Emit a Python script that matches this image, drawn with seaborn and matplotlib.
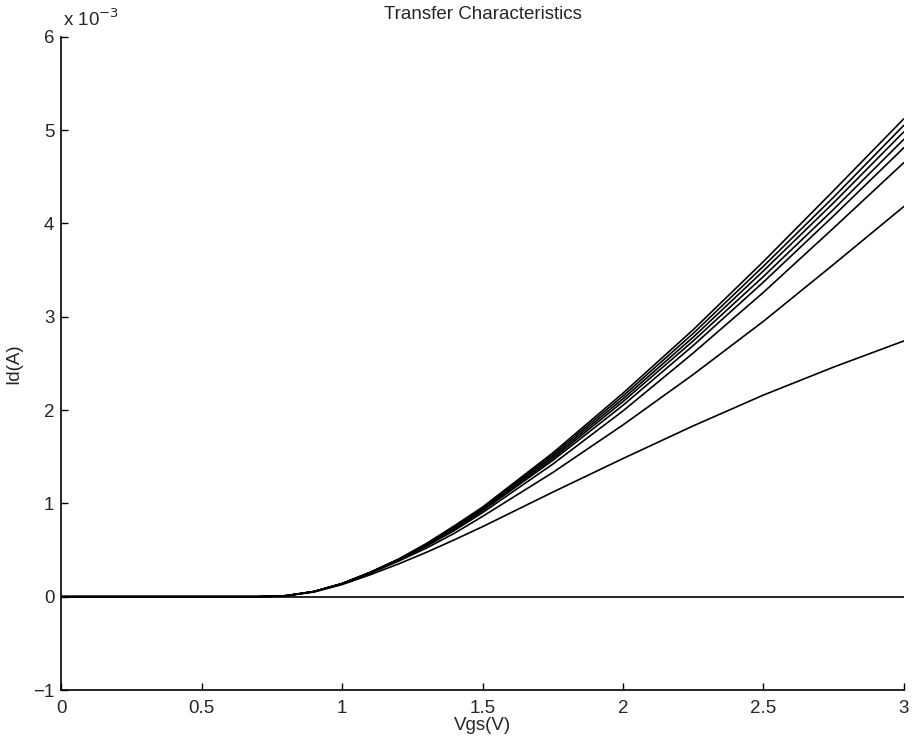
import pandas as pd
import matplotlib
matplotlib.use('Agg')
import matplotlib.pyplot as plt
import seaborn as sns

# Gate voltage samples (V)
vgs = [0.0, 0.5, 0.7, 0.8, 0.9, 1.0, 1.1, 1.2, 1.3, 1.4, 1.5, 1.75, 2.0, 2.25, 2.5, 2.75, 3.0]

# Drain current for each curve, in units of 1e-3 A
id_1 = [0, 0, 0, 0.01, 0.055, 0.14, 0.26, 0.40, 0.57, 0.76, 0.96, 1.54, 2.18, 2.86, 3.59, 4.35, 5.12]
id_2 = [0, 0, 0, 0.01, 0.055, 0.14, 0.26, 0.40, 0.56, 0.75, 0.95, 1.52, 2.15, 2.82, 3.54, 4.28, 5.05]
id_3 = [0, 0, 0, 0.01, 0.055, 0.14, 0.26, 0.40, 0.56, 0.74, 0.94, 1.50, 2.12, 2.78, 3.49, 4.22, 4.98]
id_4 = [0, 0, 0, 0.01, 0.055, 0.14, 0.26, 0.39, 0.55, 0.73, 0.93, 1.48, 2.09, 2.74, 3.43, 4.15, 4.90]
id_5 = [0, 0, 0, 0.01, 0.055, 0.14, 0.26, 0.39, 0.55, 0.72, 0.92, 1.46, 2.05, 2.69, 3.37, 4.08, 4.81]
id_6 = [0, 0, 0, 0.01, 0.055, 0.14, 0.25, 0.39, 0.54, 0.71, 0.90, 1.42, 1.99, 2.61, 3.26, 3.95, 4.65]
id_7 = [0, 0, 0, 0.01, 0.055, 0.14, 0.25, 0.38, 0.52, 0.68, 0.86, 1.33, 1.84, 2.38, 2.95, 3.56, 4.18]
id_8 = [0, 0, 0, 0.01, 0.05, 0.13, 0.235, 0.35, 0.475, 0.61, 0.75, 1.12, 1.48, 1.83, 2.16, 2.46, 2.74]
id_9 = [0] * len(vgs)

curves = [id_1, id_2, id_3, id_4, id_5, id_6, id_7, id_8, id_9]

rows = []
for i, ids in enumerate(curves):
    for v, c in zip(vgs, ids):
        rows.append({'Vgs': v, 'Id': c, 'curve': i})
df = pd.DataFrame(rows)

sns.set_style('ticks')
plt.rcParams['font.family'] = ['Liberation Sans', 'DejaVu Sans']
plt.rcParams['xtick.direction'] = 'in'
plt.rcParams['ytick.direction'] = 'in'

fig = plt.figure(figsize=(9.19, 7.51), dpi=100)
ax = fig.add_axes([0.0667, 0.0812, 0.9167, 0.8699])

sns.lineplot(data=df, x='Vgs', y='Id', units='curve', estimator=None,
             color='black', linewidth=1.2, ax=ax)

ax.set_xlim(0, 3)
ax.set_ylim(-1, 6)
ax.set_xticks([0, 0.5, 1, 1.5, 2, 2.5, 3])
ax.set_xticklabels(['0', '0.5', '1', '1.5', '2', '2.5', '3'])
ax.set_yticks(range(-1, 7))
ax.set_yticklabels(['\u22121'] + [str(i) for i in range(0, 7)])
ax.tick_params(labelsize=13.5, length=5, width=1, color='black')
ax.tick_params(axis='x', pad=7)
ax.tick_params(axis='y', pad=5)

sns.despine(ax=ax)
for s in ['left', 'bottom']:
    ax.spines[s].set_linewidth(1.2)
    ax.spines[s].set_color('black')

ax.set_xlabel('Vgs(V)', fontsize=13.5, labelpad=0)
ax.set_ylabel('Id(A)', fontsize=13.5, labelpad=8)
ax.set_title('Transfer Characteristics', fontsize=13.5, pad=13)
ax.text(0.002, 1.01, 'x 10$^{-3}$', transform=ax.transAxes, fontsize=13.5,
        ha='left', va='bottom')

fig.savefig('out.png', dpi=100)
